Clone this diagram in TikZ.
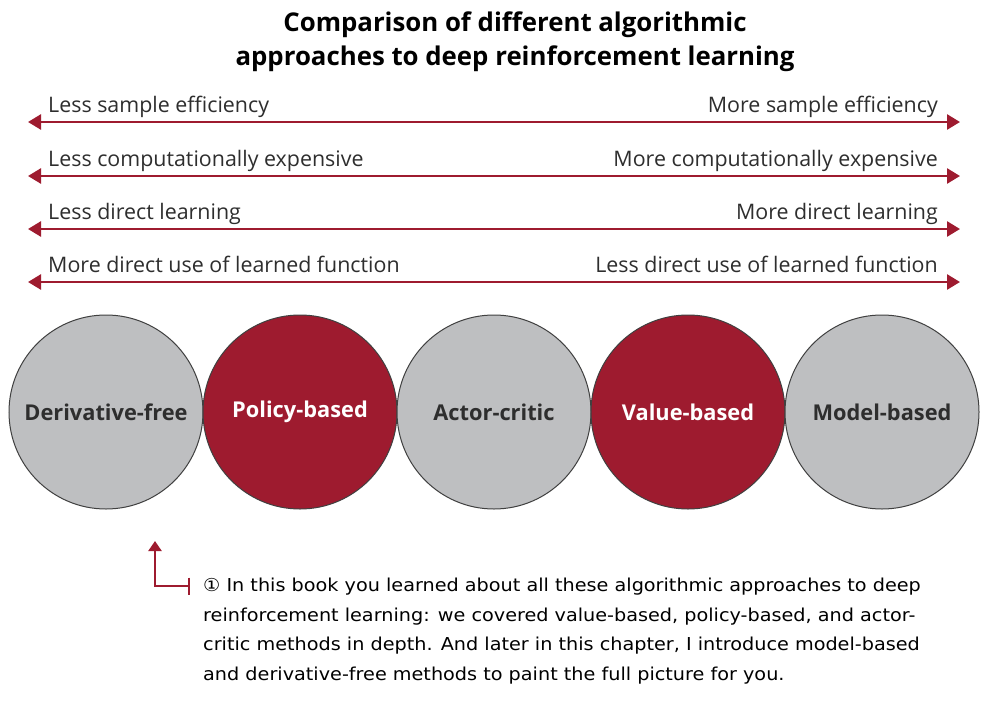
\documentclass[tikz,border=0pt]{standalone}
\usepackage{fontspec}
\setmainfont{Open Sans}
\newfontfamily\handfont[FakeStretch=1.08]{DejaVu Sans}
\usetikzlibrary{arrows.meta}
\definecolor{dred}{HTML}{9E1B2F}
\definecolor{cgrey}{HTML}{BEBFC1}
\definecolor{txt}{HTML}{2E2E2E}
\tikzset{
  scalearrow/.style={draw=dred, line width=2.6pt, {Triangle[length=13pt,width=15pt]}-{Triangle[length=13pt,width=15pt]}},
  lefttext/.style={anchor=base west, inner sep=0pt, text=txt, font=\fontsize{21.4}{24}\selectfont},
  righttext/.style={anchor=base east, inner sep=0pt, text=txt, font=\fontsize{21.4}{24}\selectfont},
  approach/.style={circle, draw=black!75, line width=1pt, minimum size=194pt, inner sep=0pt, font=\bfseries\fontsize{21.8}{24}\selectfont},
  greyc/.style={approach, fill=cgrey, text=txt},
  redc/.style={approach, fill=dred, text=white},
  notetext/.style={anchor=north west, inner sep=0pt, align=left, text=black, font=\handfont\fontsize{17.8}{29.5}\selectfont},
  notearrow/.style={draw=dred, line width=2.2pt, {Triangle[length=10pt,width=13pt]}-{Bar[width=17pt]}}
}
\begin{document}
\begin{tikzpicture}[x=1pt,y=-1pt]
\useasboundingbox (0,0) rectangle (992,701);
\fill[white] (0,0) rectangle (992,701);
% title
\node[align=center, inner sep=0pt, text=black, font=\bfseries\fontsize{25.8}{34}\selectfont] (title) at (515,42)
  {Comparison of different algorithmic\\approaches to deep reinforcement learning};
% scale arrows
\foreach \i/\y/\lt/\rt in {1/122/Less sample efficiency/More sample efficiency,
  2/176/Less computationally expensive/More computationally expensive,
  3/229/Less direct learning/More direct learning,
  4/282/More direct use of learned function/Less direct use of learned function}{
  \coordinate (l\i) at (28,\y);
  \coordinate (r\i) at (960,\y);
  \draw[scalearrow] (l\i) -- (r\i);
  \node[lefttext] (lt\i) at (48,\y-10) {\lt};
  \node[righttext] (rt\i) at (938,\y-10) {\rt};
}
% circles
\node[greyc] (df) at (106,412) {\raisebox{-2pt}{Derivative-free}};
\node[redc] (pb) at (300,412) {\raisebox{-2pt}{Policy-based}};
\node[greyc] (ac) at (494,412) {\raisebox{-2pt}{Actor-critic}};
\node[redc] (vb) at (688,412) {\raisebox{-2pt}{Value-based}};
\node[greyc] (mb) at (882,412) {\raisebox{-2pt}{Model-based}};
% note
\node[notetext] (note) at (203,578)
  {① In this book you learned about all these algorithmic approaches to deep\\
   reinforcement learning: we covered value-based, policy-based, and actor-\\
   critic methods in depth. And later in this chapter, I introduce model-based\\
   and derivative-free methods to paint the full picture for you.};
\coordinate (nstart) at (190,586);
\coordinate (ntip) at (155,541);
\draw[notearrow] (ntip) |- (nstart);
\end{tikzpicture}
\end{document}
